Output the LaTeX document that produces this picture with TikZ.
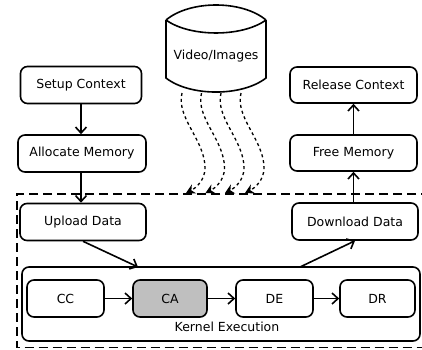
\documentclass[tikz,border=0pt]{standalone}
\usepackage{fontspec}
\setmainfont{DejaVu Sans}
\usetikzlibrary{arrows.meta}

\tikzset{
	box/.style={draw, line width=1.6pt, rounded corners=7pt, minimum height=37pt, inner sep=2pt},
	flow/.style={line width=1.6pt, -{Straight Barb[length=6pt,width=11pt,line width=1.6pt]}},
	wave/.style={line width=1.3pt, dash pattern=on 3pt off 3pt, -{Stealth[length=9pt,width=10pt,inset=3pt]}}
}

\begin{document}
\begin{tikzpicture}[x=1pt,y=-1pt,font=\fontsize{12.5}{14}\selectfont]
	\useasboundingbox (0,0) rectangle (422,349);

	% dashed region
	\draw[line width=1.8pt, dash pattern=on 9pt off 5pt] (430,194) -- (17,194) -- (17,347.5) -- (430,347.5);

	% storage
	\draw[line width=1.6pt] (166,20) .. controls (190,0) and (242,0) .. (266,20);
	\draw[line width=1.6pt] (166,20) .. controls (190,37.3) and (242,37.3) .. (266,20);
	\draw[line width=1.6pt] (166,20) -- (166,78) .. controls (190,96.7) and (242,96.7) .. (266,78) -- (266,20);
	\node (video) at (216,56) {Video/Images};

	% host side
	\node[box, minimum width=121pt] (setup) at (81,85) {Setup Context};
	\node[box, minimum width=128pt] (alloc) at (82,153.5) {Allocate Memory};
	\node[box, minimum width=126pt] (upload) at (83,222) {Upload Data};
	\node[box, minimum width=127pt, minimum height=36pt] (release) at (353.5,85) {Release Context};
	\node[box, minimum width=127pt, minimum height=36pt] (free) at (353.5,153) {Free Memory};
	\node[box, minimum width=126pt] (download) at (355,221.5) {Download Data};

	% kernel
	\node[box, minimum width=398pt, minimum height=74pt] (kernel) at (221,304) {};
	\node (kname) at (227,327) {Kernel Execution};
	\node[box, minimum width=77pt] (cc) at (65.5,298.5) {CC};
	\node[box, minimum width=74pt, fill=black!25] (ca) at (170,298.5) {CA};
	\node[box, minimum width=77pt] (de) at (274.5,298.5) {DE};
	\node[box, minimum width=75pt] (dr) at (377.5,298.5) {DR};

	\coordinate (kin) at (138,267);
	\coordinate (kout) at (300,267);

	\draw[flow] (setup) -- (setup |- alloc.north);
	\draw[flow] (setup |- alloc.south) -- (setup |- upload.north);
	\draw[flow] (upload.south) -- (kin);
	\draw[flow] (kout) -- (download.south);
	\draw[flow] (download.north -| free) -- (free);
	\draw[flow] (free) -- (release);
	\draw[flow] (cc) -- (ca);
	\draw[flow] (ca) -- (de);
	\draw[flow] (de) -- (dr);

	% frames read from storage
	\foreach \dx in {0,19.5,39,59} {
		\draw[wave] (182+\dx,93) .. controls (176+\dx,118) and (205+\dx,140) .. (205+\dx,168)
			.. controls (205+\dx,180) and (196+\dx,188) .. (186+\dx,193);
	}
\end{tikzpicture}
\end{document}
